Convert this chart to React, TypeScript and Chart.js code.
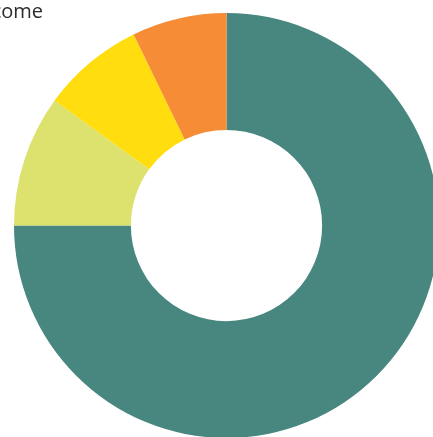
import React, { useEffect, useRef } from "react";
import { Chart, registerables } from "chart.js";

Chart.register(...registerables);

const categories = ["Main income", "Second source", "Third source", "Other"];
const values = [75, 10, 7.8, 7.2];
const colors = ["#48877F", "#DDE26E", "#FFDD0E", "#F68D36"];
const titleText = "Income";

export default function App() {
  const ref = useRef<HTMLCanvasElement | null>(null);

  useEffect(() => {
    if (!ref.current) return;
    const chart = new Chart(ref.current, {
      type: "doughnut",
      data: {
        labels: categories,
        datasets: [
          {
            data: values,
            backgroundColor: colors,
            borderWidth: 0,
            hoverOffset: 0,
          },
        ],
      },
      options: {
        animation: false,
        responsive: true,
        maintainAspectRatio: false,
        cutout: "45%",
        layout: { padding: 0 },
        plugins: {
          legend: { display: false },
          title: { display: false },
          tooltip: { enabled: false },
        },
      },
    });
    return () => chart.destroy();
  }, []);

  return (
    <div>
      <div
        style={{
          position: "fixed",
          left: 0,
          top: -3,
          width: 43,
          display: "flex",
          justifyContent: "flex-end",
          overflow: "visible",
        }}
      >
        <span
          style={{
            fontFamily: "'Open Sans', sans-serif",
            fontSize: 20,
            color: "#2b2b2b",
            whiteSpace: "nowrap",
          }}
        >
          {titleText}
        </span>
      </div>
      <div
        style={{
          position: "fixed",
          left: 14,
          top: 13,
          width: 425,
          height: 425,
        }}
      >
        <canvas ref={ref} />
      </div>
    </div>
  );
}
